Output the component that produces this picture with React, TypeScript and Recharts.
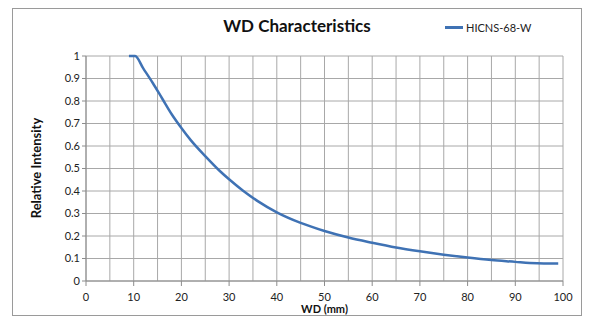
import React from 'react';
import {
  LineChart,
  Line,
  XAxis,
  YAxis,
  CartesianGrid,
} from 'recharts';

const wd = [9, 10.3, 12, 14, 16, 18, 20, 22, 25, 28, 30, 33, 36, 40, 45, 50, 55, 60, 65, 70, 75, 80, 85, 90, 93, 96, 99];
const intensity = [1, 1, 0.945, 0.88, 0.81, 0.74, 0.68, 0.625, 0.555, 0.49, 0.452, 0.4, 0.355, 0.305, 0.258, 0.222, 0.193, 0.17, 0.149, 0.132, 0.117, 0.104, 0.093, 0.085, 0.08, 0.078, 0.078];
const xTicks = [0, 5, 10, 15, 20, 25, 30, 35, 40, 45, 50, 55, 60, 65, 70, 75, 80, 85, 90, 95, 100];
const yTicks = [0, 0.1, 0.2, 0.3, 0.4, 0.5, 0.6, 0.7, 0.8, 0.9, 1];
const seriesName = 'HICNS-68-W';

const data = wd.map((x, i) => ({ wd: x, value: intensity[i] }));

const FONT = 'Lato, "Open Sans", sans-serif';
const BLUE = '#3f72b4';
const AXIS = '#8c8c8c';

const XTick = (props: any) => {
  const { x, y, payload } = props;
  const major = payload.value % 10 === 0;
  if (!major) return null;
  return (
    <g>
      <line x1={x} y1={y - 8} x2={x} y2={y - 3} stroke={AXIS} />
      <text x={x} y={y + 12} textAnchor="middle" fontSize={11} fill="#222" fontFamily={FONT}>
        {payload.value}
      </text>
    </g>
  );
};

export default function App() {
  return (
    <div style={{ position: 'absolute', left: 0, top: 0, width: 600, height: 327, background: '#fff' }}>
      <div
        style={{
          position: 'absolute',
          left: 12,
          top: 8,
          width: 568,
          height: 306,
          border: '1px solid #9a9a9a',
        }}
      />
      <div
        style={{
          position: 'absolute',
          left: 0,
          top: 15,
          width: 594,
          textAlign: 'center',
          fontFamily: FONT,
          fontWeight: 'bold',
          fontSize: 17,
          color: '#111',
        }}
      >
        WD Characteristics
      </div>
      <div
        style={{
          position: 'absolute',
          left: 445,
          top: 21,
          display: 'flex',
          alignItems: 'center',
          fontFamily: FONT,
          fontSize: 11,
          color: '#222',
        }}
      >
        <span style={{ display: 'inline-block', width: 18, height: 3, background: BLUE, marginRight: 3 }} />
        {seriesName}
      </div>
      <LineChart
        width={600}
        height={327}
        data={data}
        margin={{ top: 56, right: 37, bottom: 16, left: 0 }}
        style={{ position: 'absolute', left: 0, top: 0 }}
      >
        <CartesianGrid stroke="#a8a8a8" strokeWidth={1} />
        <XAxis
          dataKey="wd"
          type="number"
          domain={[0, 100]}
          ticks={xTicks}
          interval={0}
          height={30}
          stroke={AXIS}
          tickLine={false}
          tick={<XTick />}
          label={{
            value: 'WD (mm)',
            position: 'insideBottom',
            offset: -2,
            fontSize: 11,
            fontWeight: 'bold',
            fill: '#111',
            fontFamily: FONT,
          }}
        />
        <YAxis
          type="number"
          domain={[0, 1]}
          ticks={yTicks}
          interval={0}
          width={86}
          stroke={AXIS}
          tickSize={4}
          tickFormatter={(v: number) => String(v)}
          tick={{ fontSize: 11, fill: '#222', fontFamily: FONT }}
          label={{
            content: () => (
              <text
                x={38}
                y={168}
                transform="rotate(-90 38 168)"
                textAnchor="middle"
                dominantBaseline="middle"
                fontSize={13}
                fontWeight="bold"
                fill="#111"
                fontFamily={FONT}
              >
                Relative Intensity
              </text>
            ),
          }}
        />
        <Line
          type="monotone"
          dataKey="value"
          name={seriesName}
          stroke={BLUE}
          strokeWidth={2.5}
          dot={false}
          isAnimationActive={false}
        />
      </LineChart>
    </div>
  );
}
